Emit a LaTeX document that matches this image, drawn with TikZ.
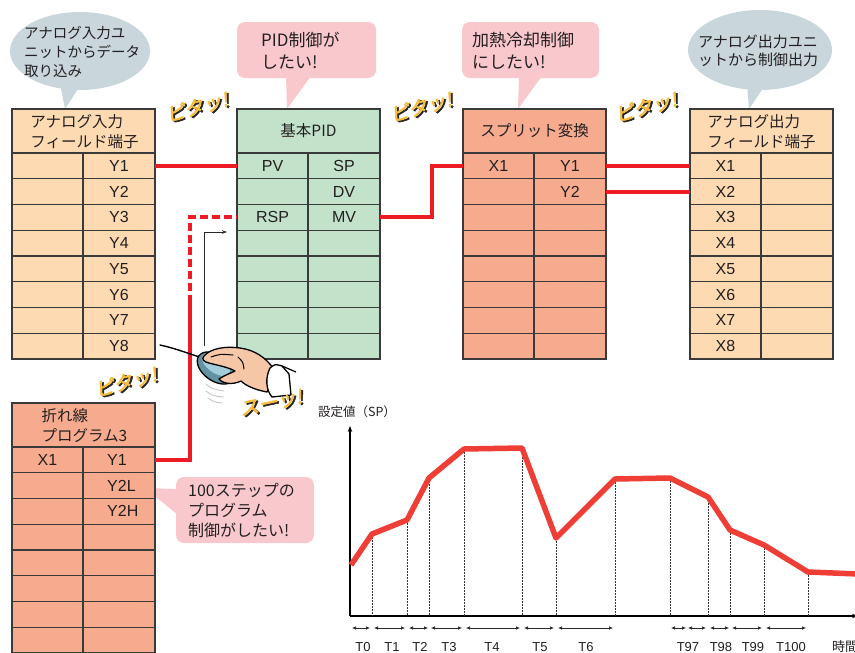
\documentclass[tikz,border=0pt]{standalone}
\usepackage{fontspec}
\setmainfont{Liberation Sans}
\newfontfamily\jp{Noto Sans CJK JP}
\newfontfamily\jpheavy[FakeBold=2.5,FakeSlant=0.22]{Noto Sans CJK JP}
\usetikzlibrary{arrows.meta}

\definecolor{wire}{HTML}{ED1C24}
\definecolor{peach}{HTML}{FDDAB2}
\definecolor{mint}{HTML}{C2E2CA}
\definecolor{salmon}{HTML}{F7AB8E}
\definecolor{bubblegray}{HTML}{C9D6DB}
\definecolor{bubblepink}{HTML}{F9C8CC}
\definecolor{gridline}{HTML}{3A3A3A}
\definecolor{curve}{HTML}{EE3E36}
\definecolor{pitayellow}{HTML}{F8BC3A}
\definecolor{skin}{HTML}{F6C7A7}
\definecolor{mouseblue}{HTML}{7CB7CB}
\definecolor{textgray}{HTML}{231F20}

\tikzset{
  gridpen/.style={draw=gridline, line width=1.2pt},
  cell/.style={font=\fontsize{16}{16}\selectfont, text=textgray, inner sep=0pt},
  headtext/.style={font=\jp\fontsize{15.5}{20}\selectfont, text=textgray, align=left, inner sep=0pt},
  bubbletext/.style={font=\jp\fontsize{15}{19}\selectfont, text=textgray, align=left, inner sep=0pt, anchor=west},
  wirepen/.style={draw=wire, line width=4pt},
  curvepen/.style={draw=curve, line width=5.5pt, line join=round},
  guidepen/.style={draw=black!80, line width=0.6pt, dash pattern=on 1.6pt off 1.4pt},
  spanpen/.style={draw=black!85, line width=0.7pt, {Latex[length=4pt,width=3.6pt]}-{Latex[length=4pt,width=3.6pt]}},
  ticklabel/.style={font=\fontsize{13}{13}\selectfont, text=textgray, inner sep=0pt},
  effecttext/.style={font=\jpheavy\fontsize{19}{19}\selectfont, inner sep=0pt},
}

% one terminal block: name, left x, top y, fill colour
\newcommand\blocktable[4]{%
  \fill[#4] (#2,#3) rectangle ++(143,250);
  \foreach \k in {0,...,7}{\draw[gridpen] (#2,#3+44+\k*25.75) -- ++(143,0);}
  \draw[gridpen] (#2+71,#3+44) -- (#2+71,#3+250);
  \draw[gridpen] (#2,#3) rectangle ++(143,250);
  \foreach \k in {1,...,8}{%
    \coordinate (#1-w\k) at (#2,#3+44+\k*25.75-12.875);
    \coordinate (#1-e\k) at (#2+143,#3+44+\k*25.75-12.875);
    \coordinate (#1-l\k) at (#2+35.5,#3+44+\k*25.75-12.875);
    \coordinate (#1-r\k) at (#2+107,#3+44+\k*25.75-12.875);
  }%
}

% a "sound effect" word in yellow with a dark drop shadow
\newcommand\effect[5]{% name, x, y, angle, text
  \node[effecttext, rotate=#4] (#1) at (#2,#3)
    {\rlap{\kern1.6pt\raisebox{-1.8pt}{\color{black!85}#5}}\textcolor{pitayellow}{#5}};
}

\begin{document}
\begin{tikzpicture}[x=1pt, y=-1pt]
\useasboundingbox (0,0) rectangle (855,653);

% ---------- speech bubbles ----------
\fill[bubblegray] (80,51) ellipse [x radius=70pt, y radius=39pt];
\fill[bubblegray] (60,84) -- (65,109) -- (80,86) -- cycle;
\node[bubbletext, font=\jp\fontsize{14.5}{19}\selectfont] (b-in) at (24,52) {アナログ入力ユ\\ニットからデータ\\取り込み};

\fill[bubblepink, rounded corners=8pt] (237,22) rectangle (376,78);
\fill[bubblepink] (286,76) -- (287,109) -- (311,76) -- cycle;
\node[bubbletext, font=\jp\fontsize{17}{22}\selectfont] (b-pid) at (261,51) {PID制御が\\したい!};

\fill[bubblepink, rounded corners=8pt] (462,22) rectangle (599,78);
\fill[bubblepink] (519,76) -- (518,109) -- (542,76) -- cycle;
\node[bubbletext, font=\jp\fontsize{17}{22}\selectfont] (b-split) at (472,51) {加熱冷却制御\\にしたい!};

\fill[bubblegray] (760,50) ellipse [x radius=72pt, y radius=40pt];
\fill[bubblegray] (747,84) -- (749,109) -- (766,84) -- cycle;
\node[bubbletext, font=\jp\fontsize{15}{18}\selectfont] (b-out) at (698,51) {アナログ出力ユニ\\ットから制御出力};

\fill[bubblepink, rounded corners=8pt] (176,477) rectangle (314,543);
\fill[bubblepink] (145,488) -- (178,489) -- (178,515) -- cycle;
\node[bubbletext, font=\jp\fontsize{16}{20}\selectfont] (b-prog) at (188,510) {100ステップの\\プログラム\\制御がしたい!};

% ---------- terminal blocks ----------
\blocktable{ai}{12}{109}{peach}
\blocktable{pid}{237}{109}{mint}
\blocktable{sp}{463}{109}{salmon}
\blocktable{ao}{690}{109}{peach}
\blocktable{fl}{12}{403}{salmon}

\node[headtext] (ai-head) at (84.5,132) {アナログ入力\\フィールド端子};
\node[headtext] (pid-head) at (308.5,131) {基本PID};
\node[headtext] (sp-head) at (534.5,131) {スプリット変換};
\node[headtext] (ao-head) at (761.5,132) {アナログ出力\\フィールド端子};
\node[headtext] (fl-head) at (84.5,426) {折れ線\\プログラム3};

\foreach \k in {1,...,8}{
  \node[cell] (ai-y\k) at (ai-r\k) {Y\k};
  \node[cell] (ao-x\k) at (ao-l\k) {X\k};
}
\node[cell] (pid-pv) at (pid-l1) {PV};
\node[cell] (pid-sp) at (pid-r1) {SP};
\node[cell] (pid-dv) at (pid-r2) {DV};
\node[cell] (pid-rsp) at (pid-l3) {RSP};
\node[cell] (pid-mv) at (pid-r3) {MV};
\node[cell] (sp-x1) at (sp-l1) {X1};
\node[cell] (sp-y1) at (sp-r1) {Y1};
\node[cell] (sp-y2) at (sp-r2) {Y2};
\node[cell] (fl-x1) at (fl-l1) {X1};
\node[cell, anchor=west] (fl-y1) at ([xshift=-12pt]fl-r1) {Y1};
\node[cell, anchor=west] (fl-y2l) at ([xshift=-12pt]fl-r2) {Y2L};
\node[cell, anchor=west] (fl-y2h) at ([xshift=-12pt]fl-r3) {Y2H};

% ---------- wiring ----------
\draw[wirepen] (ai-e1) -- (pid-w1);
\draw[wirepen] (pid-e3) -- ++(52,0) |- (sp-w1);
\draw[wirepen] (sp-e1) -- (ao-w1);
\draw[wirepen] (sp-e2) -- (ao-w2);
\coordinate (rsp-join) at (190,303);
\draw[wirepen] (fl-e1) -| (rsp-join);
\draw[wirepen, dash pattern=on 8pt off 4pt] (rsp-join) |- (pid-w3);

% drag direction hint
\coordinate (drag-start) at (204,346);
\coordinate (drag-end) at (227,232);
\draw[black!85, line width=0.8pt, -{Stealth[length=5pt,width=3.5pt]}] (drag-start) |- (drag-end);

% ---------- hand on the mouse ----------
\draw[line width=1.4pt, line cap=round] (160,345) .. controls (178,349) and (192,355) .. (203,358);
\draw[gray!45, line width=0.9pt, line cap=round] (206,384) .. controls (212,389) .. (224,391);
\draw[gray!45, line width=0.9pt, line cap=round] (206,391) .. controls (213,396) .. (224,397);
\draw[gray!45, line width=0.9pt, line cap=round] (208,398) .. controls (214,402) .. (222,403);
\draw[fill=mouseblue!80!black, line width=1.3pt, rotate around={-35:(216,368)}] (216,368) ellipse [x radius=21pt, y radius=13pt];
\fill[mouseblue!70!white, rotate around={-35:(216,368)}] (214,365) ellipse [x radius=16pt, y radius=8.5pt];
\draw[fill=skin, line width=1.3pt, line join=round]
  (204,356) .. controls (211,348) and (226,346) .. (240,348)
  .. controls (255,350) and (266,358) .. (273,368)
  -- (276,375) -- (267,392)
  .. controls (256,390) and (246,386) .. (241,381)
  .. controls (233,385) and (223,384) .. (219,379)
  .. controls (225,375) and (231,373) .. (235,371)
  .. controls (228,367) and (216,365) .. (209,363)
  .. controls (204,362) and (201,359) .. (204,356) -- cycle;
\draw[line width=1pt, line cap=round] (211,357) .. controls (220,354) .. (233,355);
\draw[line width=1pt, line cap=round] (238,357) .. controls (243,362) .. (244,369);
\draw[fill=white, line width=1.3pt, line join=round]
  (270,368) .. controls (275,364) .. (282,366) -- (289,374) -- (291,395)
  -- (272,397) .. controls (266,390) and (265,378) .. (270,368) -- cycle;
\draw[line width=1.2pt] (282,366) -- (296,372);

% ---------- sound effects ----------
\effect{pita1}{197}{108}{15}{ピタッ!}
\effect{pita2}{421}{108}{15}{ピタッ!}
\effect{pita3}{646}{108}{15}{ピタッ!}
\effect{pita4}{126}{383}{15}{ピタッ!}
\effect{suu}{271}{404}{12}{スーッ!}

% ---------- set point program chart ----------
\coordinate (o) at (350,616);
\coordinate (ytop) at (350,426);
\coordinate (xend) at (858,616);
\draw[black, line width=1.6pt, -{Stealth[length=6pt,width=4.5pt]}] (o) -- (ytop);
\draw[black, line width=1.6pt, -{Stealth[length=6pt,width=4.5pt]}] (o) -- (xend);
\node[ticklabel, font=\jp\fontsize{12.5}{12.5}\selectfont] (sp-axis) at (357,412) {設定値（SP）};
\node[ticklabel, font=\jp\fontsize{13}{13}\selectfont, anchor=west] (t-axis) at (832,647) {時間};

\foreach \n/\x/\y in {0/351/565, 1/372/534, 2/407/520, 3/429/478, 4/464/449, 5/522/448, 6/556/538,
  7/615/479, 8/670/478, 9/708/497, 10/730/530, 11/764/545, 12/808/572, 13/858/574}{
  \coordinate (p\n) at (\x,\y);
}
\foreach \n in {1,...,12}{ \draw[guidepen] (p\n) -- (p\n |- o); }
\draw[curvepen] (p0) -- (p1) -- (p2) -- (p3) -- (p4) -- (p5) -- (p6) -- (p7)
  -- (p8) -- (p9) -- (p10) -- (p11) -- (p12) -- (p13);

\foreach \a/\b in {352/370, 374/405, 409/428, 431/462, 466/520, 524/554, 558/613,
  671/686, 688/706, 710/729, 732/762, 766/806}{
  \coordinate (span-a) at (\a,628);
  \coordinate (span-b) at (\b,628);
  \draw[spanpen] (span-a) -- (span-b);
}
\foreach \lab/\x in {T0/363, T1/392, T2/420, T3/449, T4/492, T5/540, T6/586,
  T97/688, T98/721, T99/753, T100/791}{
  \node[ticklabel] (lab-\lab) at (\x,647) {\lab};
}
\end{tikzpicture}
\end{document}
